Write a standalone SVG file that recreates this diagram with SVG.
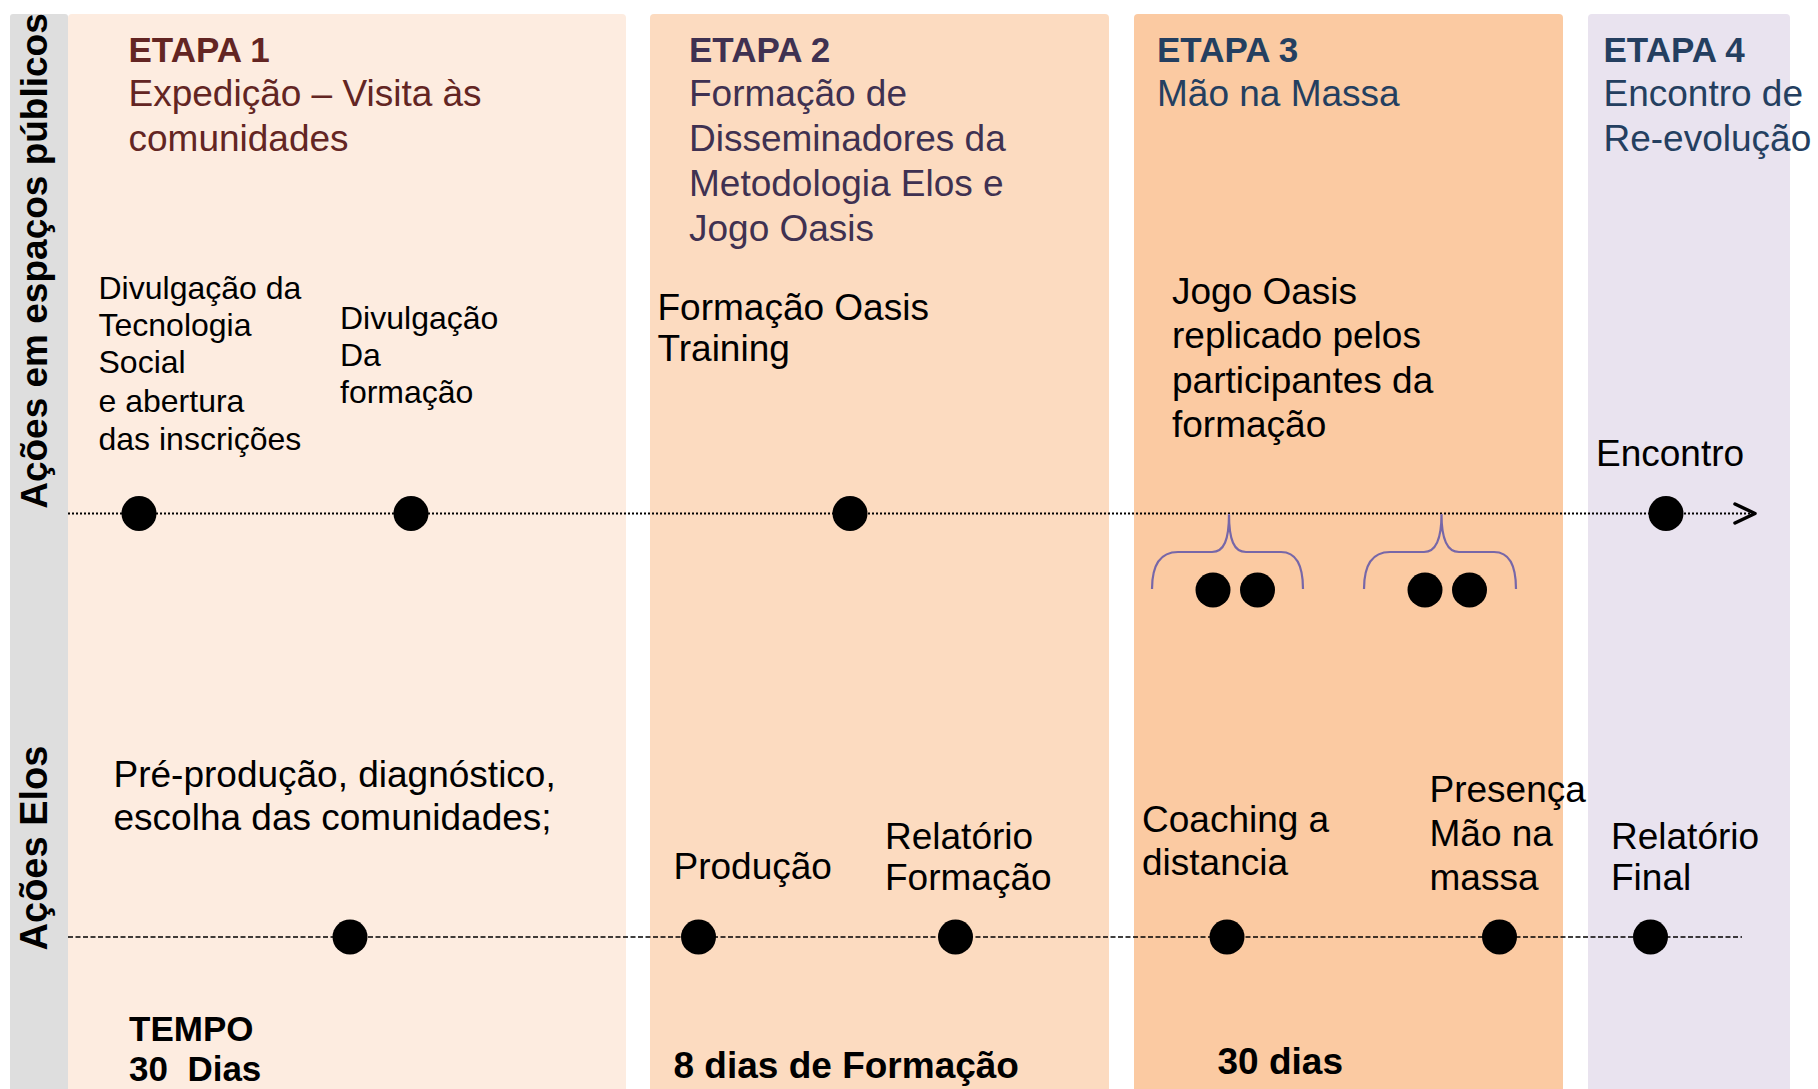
<svg xmlns="http://www.w3.org/2000/svg" width="1818" height="1089" viewBox="0 0 1818 1089">
  <style>
    text { font-family: "Liberation Sans", Arial, sans-serif; }
    .side { font-size: 37px; font-weight: bold; fill: #000; }
    .title { font-size: 35px; font-weight: bold; }
    .sub { font-size: 37px; }
    .t1 { fill: #632523; }
    .t2 { fill: #3f3151; }
    .t3 { fill: #243f60; }
    .body { font-size: 37px; fill: #000; }
    .small { font-size: 32px; fill: #000; }
    .bold { font-size: 37px; font-weight: bold; fill: #000; white-space: pre; }
    .dot { fill: #000; }
    .brace { fill: none; stroke: #7767a8; stroke-width: 2.2; }
  </style>

  <rect x="0" y="0" width="1818" height="1089" fill="#ffffff"/>

  <g id="sidebar">
    <rect x="10" y="14" width="58" height="1085" rx="3" fill="#dedede"/>
    <text class="side" transform="translate(47,261) rotate(-90)" text-anchor="middle">Ações em espaços públicos</text>
    <text class="side" transform="translate(47,848) rotate(-90)" text-anchor="middle" style="font-size:38px">Ações Elos</text>
  </g>

  <g id="etapa1">
    <rect x="68" y="14" width="558" height="1085" rx="4" fill="#fdece0"/>
    <text class="title t1" x="128.5" y="62">ETAPA 1</text>
    <text class="sub t1" x="128.5" y="105.5">Expedição – Visita às</text>
    <text class="sub t1" x="128.5" y="150.5">comunidades</text>
  </g>

  <g id="etapa2">
    <rect x="650" y="14" width="459" height="1085" rx="4" fill="#fcdbc0"/>
    <text class="title t2" x="689" y="62">ETAPA 2</text>
    <text class="sub t2" x="689" y="105.5">Formação de</text>
    <text class="sub t2" x="689" y="150.5">Disseminadores da</text>
    <text class="sub t2" x="689" y="195.5">Metodologia Elos e</text>
    <text class="sub t2" x="689" y="240.5">Jogo Oasis</text>
  </g>

  <g id="etapa3">
    <rect x="1134" y="14" width="429" height="1085" rx="4" fill="#fbcaa2"/>
    <text class="title t3" x="1157" y="62">ETAPA 3</text>
    <text class="sub t3" x="1157" y="105.5">Mão na Massa</text>
  </g>

  <g id="etapa4">
    <rect x="1588" y="14" width="202" height="1085" rx="4" fill="#e9e3ef"/>
    <text class="title t3" x="1603.5" y="62">ETAPA 4</text>
    <text class="sub t3" x="1603.5" y="105.5">Encontro de</text>
    <text class="sub t3" x="1603.5" y="150.5">Re-evolução</text>
  </g>

  <g id="connectors">
    <line x1="68" y1="513.5" x2="1752" y2="513.5" stroke="#000" stroke-width="2" stroke-dasharray="2 2"/>
    <polyline points="1735,504 1755,513.5 1735,523" fill="none" stroke="#000" stroke-width="3.5" stroke-linecap="round" stroke-linejoin="round"/>
    <line x1="68" y1="937" x2="1742" y2="937" stroke="#000" stroke-width="1.6" stroke-dasharray="5 2.5"/>
    <path class="brace" d="M1152,589 C1152,568 1158,552 1178,552 L1212,552 C1224,552 1229,540 1229,514 C1229,540 1234,552 1246,552 L1281,552 C1298,552 1303,568 1303,589"/>
    <path class="brace" d="M1364,589 C1364,568 1370,552 1390,552 L1424,552 C1436,552 1441.5,540 1441.5,514 C1441.5,540 1447,552 1459,552 L1494,552 C1511,552 1516,568 1516,589"/>
  </g>

  <g id="acao-divulgacao-tecnologia">
    <circle class="dot" cx="139" cy="513.5" r="17.5"/>
    <text class="small" x="98.5" y="299">Divulgação da</text>
    <text class="small" x="98.5" y="336">Tecnologia</text>
    <text class="small" x="98.5" y="373">Social</text>
    <text class="small" x="98.5" y="412">e abertura</text>
    <text class="small" x="98.5" y="450">das inscrições</text>
  </g>

  <g id="acao-divulgacao-formacao">
    <circle class="dot" cx="411" cy="513.5" r="17.5"/>
    <text class="small" x="340" y="329">Divulgação</text>
    <text class="small" x="340" y="366">Da</text>
    <text class="small" x="340" y="403">formação</text>
  </g>

  <g id="acao-formacao-oasis">
    <circle class="dot" cx="850" cy="513.5" r="17.5"/>
    <text class="body" x="657.5" y="320">Formação Oasis</text>
    <text class="body" x="657.5" y="361">Training</text>
  </g>

  <g id="acao-jogo-oasis">
    <text class="body" x="1172" y="303.5">Jogo Oasis</text>
    <text class="body" x="1172" y="348">replicado pelos</text>
    <text class="body" x="1172" y="392.5">participantes da</text>
    <text class="body" x="1172" y="437">formação</text>
    <circle class="dot" cx="1213" cy="590" r="17.5"/>
    <circle class="dot" cx="1257.5" cy="590" r="17.5"/>
    <circle class="dot" cx="1425" cy="590" r="17.5"/>
    <circle class="dot" cx="1469.5" cy="590" r="17.5"/>
  </g>

  <g id="acao-encontro">
    <circle class="dot" cx="1666" cy="513.5" r="17.5"/>
    <text class="body" x="1596" y="466">Encontro</text>
  </g>

  <g id="elos-preproducao">
    <circle class="dot" cx="350" cy="937" r="17.5"/>
    <text class="body" x="113.5" y="787">Pré-produção, diagnóstico,</text>
    <text class="body" x="113.5" y="830">escolha das comunidades;</text>
  </g>

  <g id="elos-producao">
    <circle class="dot" cx="698.5" cy="937" r="17.5"/>
    <text class="body" x="673.5" y="879">Produção</text>
  </g>

  <g id="elos-relatorio-formacao">
    <circle class="dot" cx="955.5" cy="937" r="17.5"/>
    <text class="body" x="885" y="848.5">Relatório</text>
    <text class="body" x="885" y="890">Formação</text>
  </g>

  <g id="elos-coaching">
    <circle class="dot" cx="1227" cy="937" r="17.5"/>
    <text class="body" x="1142" y="832">Coaching a</text>
    <text class="body" x="1142" y="875">distancia</text>
  </g>

  <g id="elos-presenca">
    <circle class="dot" cx="1499.5" cy="937" r="17.5"/>
    <text class="body" x="1429.5" y="802">Presença</text>
    <text class="body" x="1429.5" y="846">Mão na</text>
    <text class="body" x="1429.5" y="890">massa</text>
  </g>

  <g id="elos-relatorio-final">
    <circle class="dot" cx="1650.5" cy="937" r="17.5"/>
    <text class="body" x="1611" y="848.5">Relatório</text>
    <text class="body" x="1611" y="890">Final</text>
  </g>

  <g id="tempo">
    <text class="bold" x="129" y="1041" style="font-size:35px">TEMPO</text>
    <text class="bold" x="129" y="1081" style="font-size:35px">30  Dias</text>
    <text class="bold" x="673.5" y="1078">8 dias de Formação</text>
    <text class="bold" x="1217.5" y="1073.5">30 dias</text>
  </g>
</svg>
